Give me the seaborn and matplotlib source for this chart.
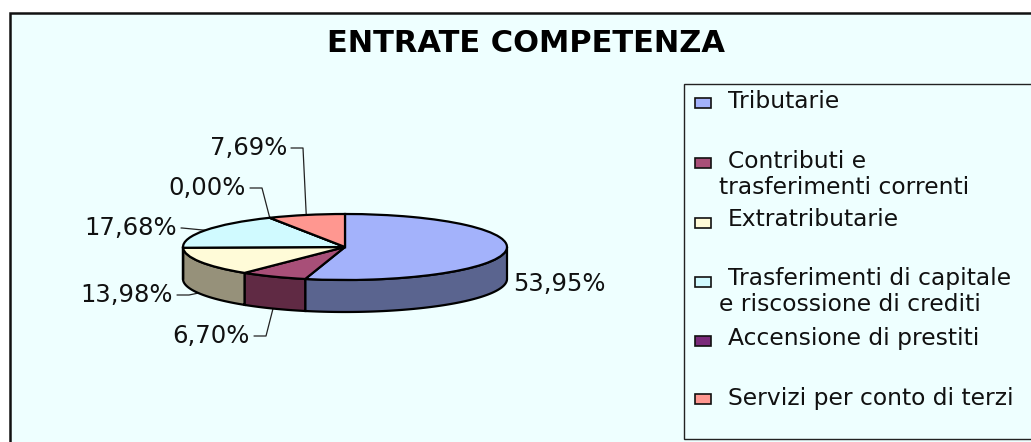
import numpy as np
import matplotlib
matplotlib.use('Agg')
import matplotlib.pyplot as plt
from matplotlib.patches import Rectangle
import seaborn as sns

# Data
categories = ['Tributarie', 'Contributi e\ntrasferimenti correnti', 'Extratributarie',
              'Trasferimenti di capitale\ne riscossione di crediti',
              'Accensione di prestiti', 'Servizi per conto di terzi']
values = [53.95, 6.70, 13.98, 17.68, 0.00, 7.69]
value_labels = ['53,95%', '6,70%', '13,98%', '17,68%', '0,00%', '7,69%']
top_colors = ['#A3B2FB', '#A84F78', '#FFFBD8', '#D0FAFF', '#7A2A7A', '#FF9790']
side_colors = ['#5A648F', '#602A44', '#96917A', '#77908F', '#451845', '#8F5550']
title = 'ENTRATE COMPETENZA'

sns.set_theme(style='white')
plt.rcParams['font.family'] = ['DejaVu Sans']

W, H = 1031, 442
bg = '#EEFFFF'
fig = plt.figure(figsize=(W / 100, H / 100), dpi=100, facecolor='white')

# overlay in pixel coordinates for frame, title and legend
ov = fig.add_axes([0, 0, 1, 1], zorder=0)
ov.set_xlim(0, W)
ov.set_ylim(H, 0)
ov.axis('off')
ov.add_patch(Rectangle((9.5, 12.5), W + 20, H + 20, fc=bg, ec='#111111', lw=1.8))
ov.text(526, 43, title, ha='center', va='center', fontsize=22, fontweight='bold', color='black')

# legend box
ov.add_patch(Rectangle((684, 84), W + 20, 355, fc=bg, ec='#222222', lw=1))
fs = 16.8
slot_y = [102, 162, 220, 279, 338, 398]
marker_y = [103, 163, 223, 282, 341, 399]
for cat, col, y, my in zip(categories, top_colors, slot_y, marker_y):
    ov.add_patch(Rectangle((695, my - 5), 16, 10, fc=col, ec='#111111', lw=1.2))
    lines = cat.split('\n')
    ov.text(728, y, lines[0], ha='left', va='center', fontsize=fs, color='#111111')
    if len(lines) > 1:
        ov.text(719, y + 25.5, lines[1], ha='left', va='center', fontsize=fs, color='#111111')

# pie axes: unit circle is squashed into the ellipse
cx, cy, rx, ry = 345, 247, 162, 33
depth = 32 / ry
ax = fig.add_axes([(cx - rx) / W, 1 - (cy + ry) / H, 2 * rx / W, 2 * ry / H], zorder=2)
ax.patch.set_alpha(0)

# side walls
edges = 90 - np.cumsum([0] + values) * 3.6
for i in range(len(values)):
    a, b = edges[i], edges[i + 1]
    a, b = min(a, 0), max(b, -180)
    if a <= b:
        continue
    th = np.radians(np.linspace(a, b, 80))
    x = np.cos(th)
    y = np.sin(th)
    ax.fill(np.r_[x, x[::-1]], np.r_[y, y[::-1] - depth], fc=side_colors[i], ec='black',
            lw=1.6, clip_on=False, zorder=1)

wedges, _ = ax.pie(values, colors=top_colors, startangle=90, counterclock=False, radius=1,
                   wedgeprops={'edgecolor': 'black', 'linewidth': 1.6, 'clip_on': False, 'zorder': 2})
ax.set_aspect('auto')
ax.set_xlim(-1, 1)
ax.set_ylim(-1, 1)
ax.axis('off')

# data labels with leader lines
label_pos = [(513, 284), (250, 336), (173, 295), (177, 228), (246, 188), (287, 148)]
mids = (edges[:-1] + edges[1:]) / 2
for i, lab in enumerate(value_labels):
    th = np.radians(mids[i])
    px = cx + rx * np.cos(th)
    py = cy - ry * np.sin(th)
    tx, ty = label_pos[i]
    if i == 0:
        ov.text(tx, ty, lab, ha='left', va='center', fontsize=17.5, color='#111111', zorder=5)
        continue
    ov.text(tx, ty, lab, ha='right', va='center', fontsize=17.5, color='#111111', zorder=5)
    if np.sin(th) < 0:
        py += 31
    xs = [tx + 4, tx + 16 if i != 3 else tx + 5, px]
    ov.plot(xs, [ty, ty, py], color='#222222', lw=0.9, zorder=5)

fig.savefig('out.png', dpi=100)
